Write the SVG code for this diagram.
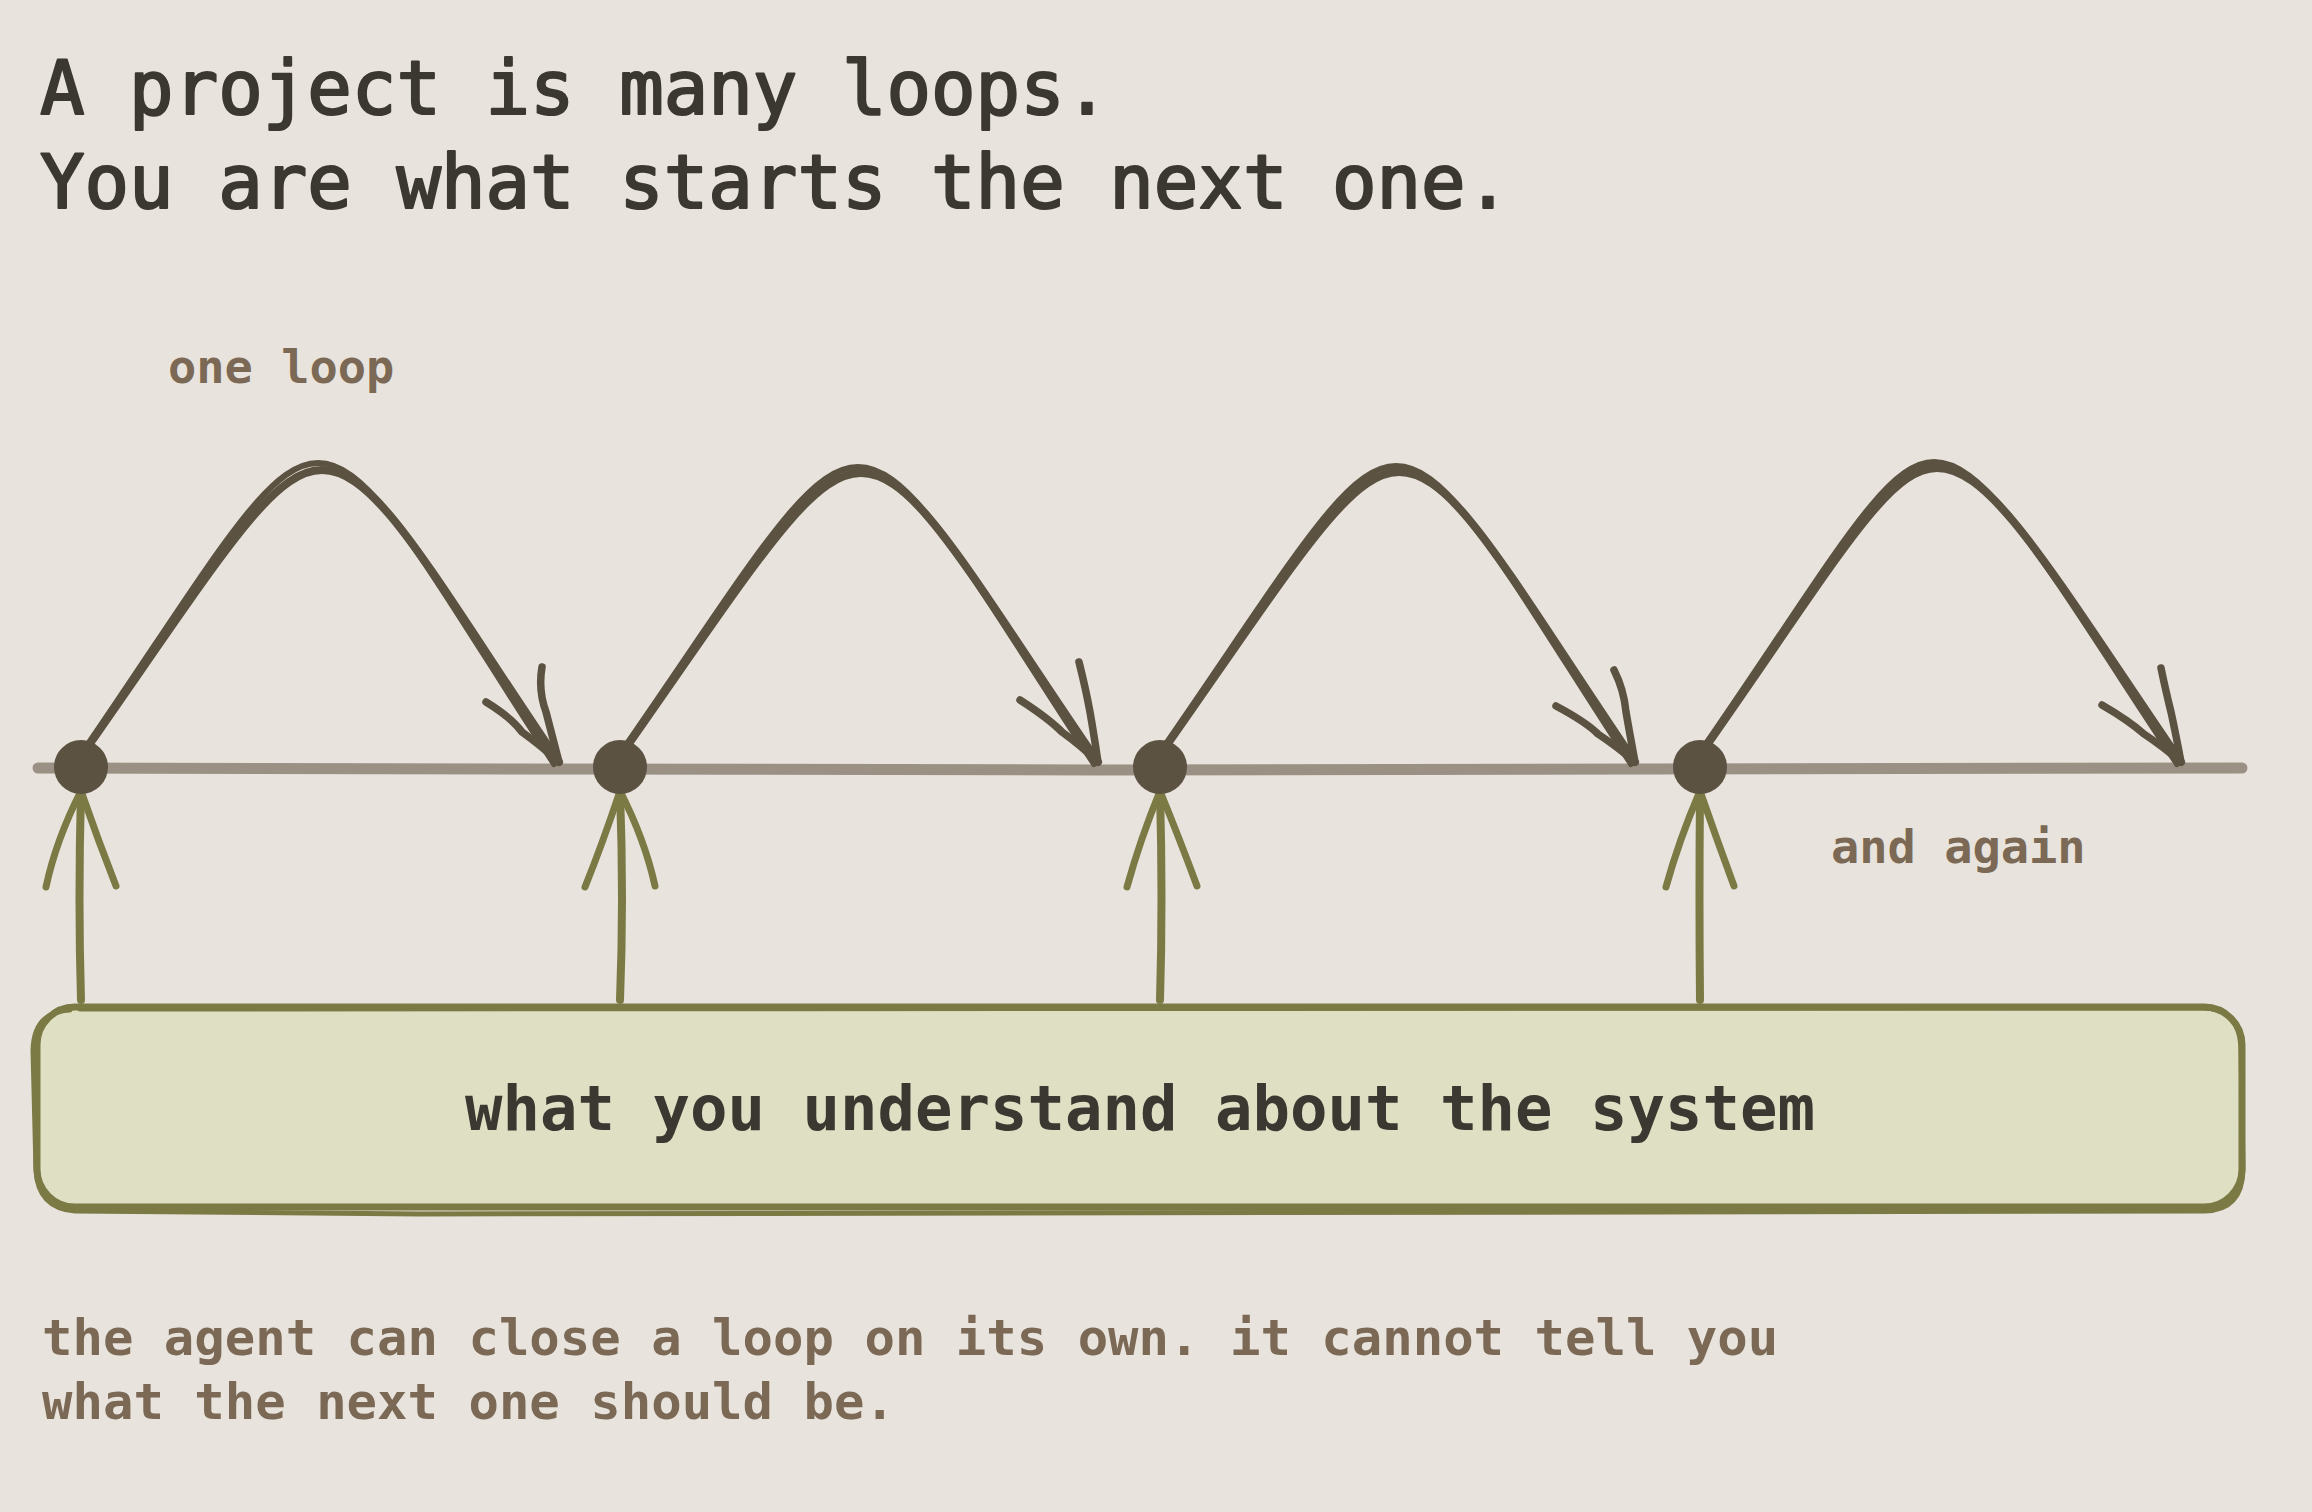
<svg xmlns="http://www.w3.org/2000/svg" width="2312" height="1512" viewBox="0 0 2312 1512">
<style>
.mono{font-family:"DejaVu Sans Mono","Liberation Mono",monospace;font-weight:bold}
.title{font-size:74px;fill:#3b3731;font-weight:normal;stroke:#3b3731;stroke-width:2.2px;stroke-linejoin:round}
.label{font-size:47px;fill:#7b6955}
.note{font-size:50.6px;fill:#7b6955}
.boxtext{font-size:62.3px;fill:#3b3731}
.arc{fill:none;stroke:#5c5241;stroke-linecap:round;stroke-linejoin:round}
.up{fill:none;stroke:#7b7a45;stroke-linecap:round;stroke-linejoin:round}
.dot{fill:#5c5241;stroke:#5c5241}
</style>
<rect x="0" y="0" width="2312" height="1512" fill="#e8e4dd"/>

<g id="title">
<text class="mono title" x="40" y="114">A project is many loops.</text>
<text class="mono title" x="40" y="208">You are what starts the next one.</text>
</g>

<g id="label-one-loop"><text class="mono label" x="168" y="383">one loop</text></g>
<g id="label-and-again"><text class="mono label" x="1831" y="863">and again</text></g>

<g id="timeline">
<path d="M38 768 L1100 770 L2242 768" fill="none" stroke="#9a9084" stroke-width="11" stroke-linecap="round"/>
</g>

<g id="connectors">
<g id="loop-1">
<path class="arc" stroke-width="8" d="M89 745 C222 555 272 470 322 470 C377 470 429 570 559 762"/>
<path class="arc" stroke-width="6" d="M82 753 C213 562 266 463 318 463 C372 463 424 564 554 764"/>
<path class="arc" stroke-width="7.5" d="M486 702 Q512 718 522 732 Q540 745 559 762 M542 667 Q538 690 546 712 Q552 735 559 762"/>
</g>
<g id="loop-2">
<path class="arc" stroke-width="8" d="M628 745 C761 555 811 473 861 473 C916 473 968 572 1098 762"/>
<path class="arc" stroke-width="6" d="M622 751 C753 562 806 467 858 467 C912 467 965 567 1094 764"/>
<path class="arc" stroke-width="7.5" d="M1020 700 Q1048 718 1062 732 Q1080 745 1098 762 M1079 662 Q1086 690 1090 712 Q1094 735 1098 762"/>
</g>
<g id="loop-3">
<path class="arc" stroke-width="8" d="M1167 745 C1300 555 1350 472 1399 472 C1454 472 1505 570 1635 762"/>
<path class="arc" stroke-width="6" d="M1161 751 C1292 562 1345 466 1396 466 C1450 466 1502 566 1631 764"/>
<path class="arc" stroke-width="7.5" d="M1556 706 Q1586 722 1598 734 Q1616 746 1635 762 M1614 670 Q1624 690 1626 712 Q1630 735 1635 762"/>
</g>
<g id="loop-4">
<path class="arc" stroke-width="8" d="M1707 745 C1840 555 1888 468 1937 468 C1992 468 2050 570 2181 762"/>
<path class="arc" stroke-width="6" d="M1701 751 C1832 562 1884 462 1934 462 C1988 462 2046 566 2177 764"/>
<path class="arc" stroke-width="7.5" d="M2102 705 Q2128 720 2144 734 Q2162 746 2181 762 M2161 668 Q2166 692 2171 712 Q2176 735 2181 762"/>
</g>
<g id="up-1">
<path class="up" stroke-width="8" d="M81 1000 Q78 900 81 791"/>
<path class="up" stroke-width="7" d="M46 887 Q56 840 81 791 M116 886 Q98 840 81 791"/>
</g>
<g id="up-2">
<path class="up" stroke-width="8" d="M620 1000 Q624 900 620 791"/>
<path class="up" stroke-width="7" d="M585 887 Q602 845 620 791 M655 886 Q645 840 620 791"/>
</g>
<g id="up-3">
<path class="up" stroke-width="8" d="M1160 1000 Q1163 900 1160 791"/>
<path class="up" stroke-width="7" d="M1127 887 Q1140 840 1160 791 M1197 886 Q1180 840 1160 791"/>
</g>
<g id="up-4">
<path class="up" stroke-width="8" d="M1700 1000 Q1699 900 1700 791"/>
<path class="up" stroke-width="7" d="M1666 887 Q1679 840 1700 791 M1734 886 Q1717 840 1700 791"/>
</g>
</g>

<g id="dots">
<g id="dot-1"><circle class="dot" cx="81" cy="767" r="25" stroke-width="4"/><path class="dot" d="M66 749 Q81 739 96 748 L70 752 Z"/></g>
<g id="dot-2"><circle class="dot" cx="620" cy="767" r="25" stroke-width="4"/><path class="dot" d="M605 749 Q620 739 635 748 L609 752 Z"/></g>
<g id="dot-3"><circle class="dot" cx="1160" cy="767" r="25" stroke-width="4"/><path class="dot" d="M1145 749 Q1160 739 1175 748 L1149 752 Z"/></g>
<g id="dot-4"><circle class="dot" cx="1700" cy="767" r="25" stroke-width="4"/><path class="dot" d="M1685 749 Q1700 739 1715 748 L1689 752 Z"/></g>
</g>

<g id="understanding">
<rect x="37" y="1007" width="2205" height="200" rx="38" fill="#dfdfc4" stroke="#7b7a45" stroke-width="7"/>
<path d="M80 1009 L2200 1008 Q2240 1006 2241 1050 L2243 1170 Q2242 1210 2205 1211 L420 1214 L75 1211 Q38 1208 36 1170 L33 1050 Q34 1012 70 1010" fill="none" stroke="#7b7a45" stroke-width="5" stroke-linecap="round"/>
<text class="mono boxtext" x="1140" y="1130" text-anchor="middle">what you understand about the system</text>
</g>

<g id="footnote">
<text class="mono note" x="42" y="1355">the agent can close a loop on its own. it cannot tell you</text>
<text class="mono note" x="42" y="1419">what the next one should be.</text>
</g>
</svg>
